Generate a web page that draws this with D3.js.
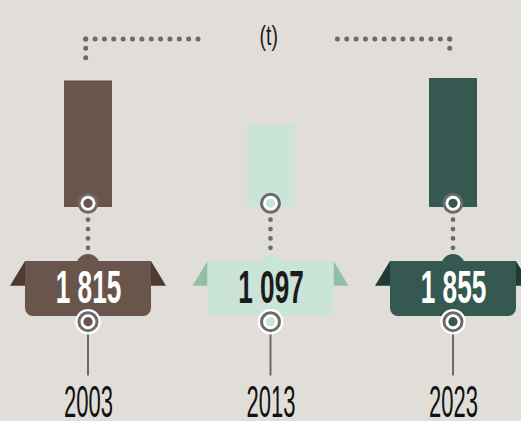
<!DOCTYPE html>
<html>
<head>
<meta charset="utf-8">
<script src="https://cdn.jsdelivr.net/npm/d3@7"></script>
<style>
  html, body { margin: 0; padding: 0; background: #e1deda; }
  #chart { width: 521px; height: 421px; }
</style>
</head>
<body>
<div id="chart"></div>
<script>
// data
var years = ["2003", "2013", "2023"];
var values = [1815, 1097, 1855];
var valueLabels = ["1 815", "1 097", "1 855"];
var unitLabel = "(t)";

// colours per year
var barColor = d3.scaleOrdinal().domain(years).range(["#69554b", "#cae5d8", "#355850"]);
var flapColor = d3.scaleOrdinal().domain(years).range(["#4f3b33", "#91bfa6", "#1f3b34"]);
var textColor = d3.scaleOrdinal().domain(years).range(["#ffffff", "#1c1c1c", "#ffffff"]);
var grey = "#6b6b6b";

var width = 521, height = 421;
var baseY = 207;          // bottom of the bars
var boxTop = 261, boxBottom = 316, boxHalf = 63;
var dotGap = 9.36;

var svg = d3.select("#chart")
  .append("svg")
  .attr("width", width)
  .attr("height", height)
  .attr("viewBox", "0 0 " + width + " " + height)
  .style("display", "block");

var x = d3.scalePoint()
  .domain(years)
  .range([88, 453]);

var y = d3.scaleLinear()
  .domain([-250, d3.max(values)])
  .range([baseY, 78]);

var data = years.map(function(yr, i) {
  return {year: yr, value: values[i], label: valueLabels[i]};
});

// dotted bracket round the unit
var x0 = x(years[0]) - 2.3, x1 = x(years[years.length - 1]) - 3.3;
var bracket = [
  [x0, 39, x0 + dotGap * 12, 39],
  [x0, 39, x0, 39 + dotGap * 2],
  [x1 - dotGap * 12, 39, x1, 39],
  [x1, 39, x1, 39 + dotGap]
];
svg.append("g").selectAll("line")
  .data(bracket)
  .enter()
  .append("line")
  .attr("x1", function(d) { return d[0]; })
  .attr("y1", function(d) { return d[1]; })
  .attr("x2", function(d) { return d[2] + 0.01; })
  .attr("y2", function(d) { return d[3] + 0.01; })
  .attr("stroke", grey)
  .attr("stroke-width", 5)
  .attr("stroke-linecap", "round")
  .attr("stroke-dasharray", "0 " + dotGap);

svg.append("text")
  .attr("transform", "translate(" + ((x0 + x1) / 2 + 1) + ",45) scale(0.72,1)")
  .attr("text-anchor", "middle")
  .style("font-family", "'Liberation Sans', Arial, sans-serif")
  .style("font-size", "27px")
  .attr("fill", "#1c1c1c")
  .text(unitLabel);

var g = svg.selectAll(".item")
  .data(data)
  .enter()
  .append("g")
  .attr("class", "item");

// bars
g.append("rect")
  .attr("x", function(d) { return x(d.year) - 24; })
  .attr("y", function(d) { return y(d.value); })
  .attr("width", 48)
  .attr("height", function(d) { return baseY - y(d.value); })
  .attr("fill", function(d) { return barColor(d.year); });

// dotted connector down to the label box
g.append("line")
  .attr("x1", function(d) { return x(d.year); })
  .attr("x2", function(d) { return x(d.year); })
  .attr("y1", 219.7)
  .attr("y2", 219.7 + dotGap * 3 + 0.01)
  .attr("stroke", grey)
  .attr("stroke-width", 4.8)
  .attr("stroke-linecap", "round")
  .attr("stroke-dasharray", "0 " + dotGap);

function marker(sel, cy, withHalo) {
  if (withHalo) {
    sel.append("circle")
      .attr("cx", function(d) { return x(d.year); })
      .attr("cy", cy)
      .attr("r", 12.8)
      .attr("fill", "#ffffff");
  }
  sel.append("circle")
    .attr("cx", function(d) { return x(d.year); })
    .attr("cy", cy)
    .attr("r", 9)
    .attr("fill", "#ffffff")
    .attr("stroke", grey)
    .attr("stroke-width", 3);
  sel.append("circle")
    .attr("cx", function(d) { return x(d.year); })
    .attr("cy", cy)
    .attr("r", 4.6)
    .attr("fill", function(d) { return barColor(d.year); });
}

marker(g, 203.3, false);

// side flaps
g.append("path")
  .attr("d", function(d) {
    var cx = x(d.year);
    return "M" + (cx - boxHalf) + "," + boxTop +
      "L" + (cx - boxHalf - 15) + "," + (boxTop + 24.7) +
      "L" + (cx - boxHalf) + "," + (boxTop + 24.7) + "Z" +
      "M" + (cx + boxHalf) + "," + boxTop +
      "L" + (cx + boxHalf + 15) + "," + (boxTop + 24.7) +
      "L" + (cx + boxHalf) + "," + (boxTop + 24.7) + "Z";
  })
  .attr("fill", function(d) { return flapColor(d.year); });

// label box with rounded bottom corners
g.append("path")
  .attr("d", function(d) {
    var cx = x(d.year), r = 8;
    var p = d3.path();
    p.moveTo(cx - boxHalf, boxTop);
    p.lineTo(cx + boxHalf, boxTop);
    p.lineTo(cx + boxHalf, boxBottom - r);
    p.arcTo(cx + boxHalf, boxBottom, cx + boxHalf - r, boxBottom, r);
    p.lineTo(cx - boxHalf + r, boxBottom);
    p.arcTo(cx - boxHalf, boxBottom, cx - boxHalf, boxBottom - r, r);
    p.closePath();
    return p.toString();
  })
  .attr("fill", function(d) { return barColor(d.year); });

// small bump on top of the box
g.append("circle")
  .attr("cx", function(d) { return x(d.year); })
  .attr("cy", 265.7)
  .attr("r", 11.7)
  .attr("fill", function(d) { return barColor(d.year); });

g.append("text")
  .attr("transform", function(d) { return "translate(" + (x(d.year) + 0.5) + ",302.7) scale(0.57,1)"; })
  .attr("text-anchor", "middle")
  .style("font-family", "'Liberation Sans', Arial, sans-serif")
  .style("font-weight", "bold")
  .style("font-size", "46px")
  .attr("fill", function(d) { return textColor(d.year); })
  .text(function(d) { return d.label; });

// stem down to the year
g.append("line")
  .attr("x1", function(d) { return x(d.year); })
  .attr("x2", function(d) { return x(d.year); })
  .attr("y1", 330)
  .attr("y2", 375.5)
  .attr("stroke", grey)
  .attr("stroke-width", 2);

marker(g, 321.7, true);

g.append("text")
  .attr("transform", function(d) { return "translate(" + (x(d.year) + 0.5) + ",416.5) scale(0.5,1)"; })
  .attr("text-anchor", "middle")
  .style("font-family", "'Liberation Sans', Arial, sans-serif")
  .style("font-size", "44px")
  .attr("fill", "#111111")
  .text(function(d) { return d.year; });
</script>
</body>
</html>
